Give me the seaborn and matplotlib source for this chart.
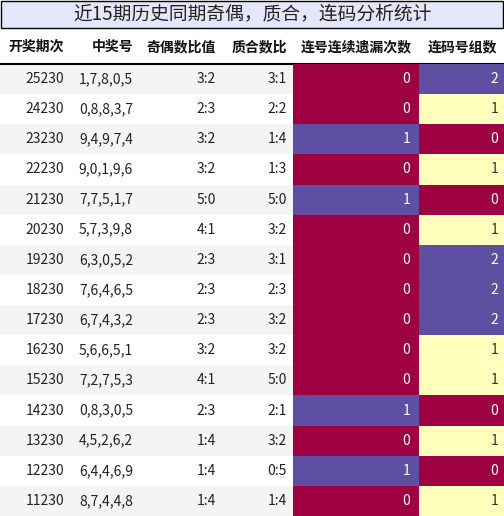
import numpy as np
import pandas as pd
import matplotlib
matplotlib.use("Agg")
import matplotlib.pyplot as plt
import seaborn as sns
from matplotlib.patches import Rectangle

sns.set_theme(style="white")
plt.rcParams['font.family'] = ['Noto Sans CJK SC', 'DejaVu Sans']

TITLE = "近15期历史同期奇偶，质合，连码分析统计"
HEADERS = ["开奖期次", "中奖号", "奇偶数比值", "质合数比", "连号连续遗漏次数", "连码号组数"]
periods = ["25230", "24230", "23230", "22230", "21230", "20230", "19230", "18230",
           "17230", "16230", "15230", "14230", "13230", "12230", "11230"]
numbers = ["1,7,8,0,5", "0,8,8,3,7", "9,4,9,7,4", "9,0,1,9,6", "7,7,5,1,7", "5,7,3,9,8",
           "6,3,0,5,2", "7,6,4,6,5", "6,7,4,3,2", "5,6,6,5,1", "7,2,7,5,3", "0,8,3,0,5",
           "4,5,2,6,2", "6,4,4,6,9", "8,7,4,4,8"]
odd_even = ["3:2", "2:3", "3:2", "3:2", "5:0", "4:1", "2:3", "2:3", "2:3", "3:2", "4:1",
            "2:3", "1:4", "1:4", "1:4"]
prime_comp = ["3:1", "2:2", "1:4", "1:3", "5:0", "3:2", "3:1", "2:3", "3:2", "3:2", "5:0",
              "2:1", "3:2", "0:5", "1:4"]
miss_count = [0, 0, 1, 0, 1, 0, 0, 0, 0, 0, 0, 1, 0, 1, 0]
group_count = [2, 1, 0, 1, 0, 1, 2, 2, 2, 1, 1, 0, 1, 0, 1]

W, H = 504, 516
fig = plt.figure(figsize=(W / 100, H / 100), dpi=100)
ax = fig.add_axes([0, 0, 1, 1])
ax.set_xlim(0, W)
ax.set_ylim(H, 0)
ax.axis("off")

# title band
ax.add_patch(Rectangle((1, 1), W - 2, 27, facecolor="#e6e6fa", edgecolor="black", lw=1))
ax.text(W / 2, 15, TITLE, ha="center", va="center", fontsize=13.5, color="#222222")

top, row_h = 64, (H - 64) / 15
right_edges = [64, 133, 216, 287, 412, 497]
for x, h in zip(right_edges, HEADERS):
    ax.text(x, 47, h, ha="right", va="center", fontsize=10, fontweight="bold", color="#111111")
ax.plot([0, W], [top, top], color="black", lw=1.5)

for i in range(15):
    y = top + i * row_h
    if i % 2 == 0:
        ax.add_patch(Rectangle((0, y), 293, row_h, facecolor="#f4f4f4", edgecolor="none"))
    cy = y + row_h / 2
    for x, vals in zip(right_edges[:4], [periods, numbers, odd_even, prime_comp]):
        ax.text(x, cy, vals[i], ha="right", va="center", fontsize=10, color="#222222")

# heatmap columns, each normalised on its own
for col, (x0, x1) in zip([miss_count, group_count], [(293, 419), (419, W)]):
    hax = fig.add_axes([x0 / W, 0, (x1 - x0) / W, (H - top) / H])
    df = pd.DataFrame({"v": col})
    sns.heatmap(df, ax=hax, cmap="Spectral", vmin=0, vmax=max(col), cbar=False,
                annot=False, xticklabels=False, yticklabels=False)
    for i, v in enumerate(col):
        tc = "#333333" if 0 < v < max(col) else "white"
        hax.text(0.93, i + 0.5, str(v), ha="right", va="center", fontsize=10, color=tc)

fig.savefig("out.png", dpi=100)
